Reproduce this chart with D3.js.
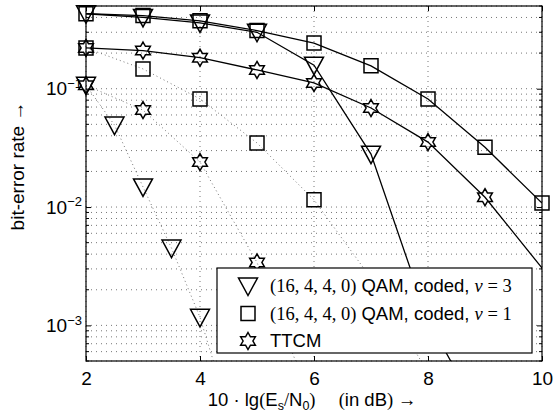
<!DOCTYPE html>
<meta charset="utf-8">
<script src="https://d3js.org/d3.v7.min.js"></script>
<style>
body { margin: 0; background: #fff; }
text { font-family: "Liberation Sans", Arial, sans-serif; fill: #000; }
.serif { font-family: "Liberation Serif", "DejaVu Serif", serif; }
</style>
<div id="chart"></div>
<script>
// values (x in dB, y = bit-error rate)
var xTicks = [2, 4, 6, 8, 10];
var yMajor = [1e-3, 1e-2, 1e-1];

// solid curves
var snrTri = [2, 3, 4, 5, 6, 7, 8, 9];
var berTri = [0.43, 0.40, 0.36, 0.30, 0.158, 0.028, 0.00111, 0.00015];
var snrSq = [2, 3, 4, 5, 6, 7, 8, 9, 10];
var berSq = [0.43, 0.415, 0.375, 0.31, 0.243, 0.156, 0.082, 0.032, 0.0108];
var snrStar = [2, 3, 4, 5, 6, 7, 8, 9, 11];
var berStar = [0.221, 0.21, 0.183, 0.144, 0.112, 0.0687, 0.0354, 0.0121, 0.00077];

// dotted curves
var snrTriD = [2, 2.5, 3, 3.5, 4, 4.5];
var berTriD = [0.107, 0.0493, 0.0148, 0.0045, 0.00117, 0.00019];
var snrSqD = [2, 3, 4, 5, 6, 7, 8];
var berSqD = [0.221, 0.147, 0.082, 0.0348, 0.0115, 0.0025, 0.0004];
var snrStarD = [2, 3, 4, 5, 6];
var berStarD = [0.107, 0.066, 0.024, 0.0034, 0.0002];

var margin = {top: 6, right: 14, bottom: 53, left: 86},
    width = 556 - margin.left - margin.right,
    height = 414 - margin.top - margin.bottom;

var svg = d3.select("#chart").append("svg")
    .attr("width", width + margin.left + margin.right)
    .attr("height", height + margin.top + margin.bottom)
  .append("g")
    .attr("transform", "translate(" + margin.left + "," + margin.top + ")");

var x = d3.scaleLinear().domain([2, 10]).range([0, width]);
var y = d3.scaleLog().domain([5e-4, 0.5]).range([height, 0]);

// grid
svg.append("g").selectAll("line")
  .data(y.ticks())
  .enter().append("line")
    .attr("x1", 0).attr("x2", width)
    .attr("y1", d => y(d)).attr("y2", d => y(d))
    .style("stroke", "#777").style("stroke-dasharray", "1,4");
svg.append("g").selectAll("line")
  .data(xTicks)
  .enter().append("line")
    .attr("x1", d => x(d)).attr("x2", d => x(d))
    .attr("y1", 0).attr("y2", height)
    .style("stroke", "#777").style("stroke-dasharray", "1,4");

svg.append("clipPath").attr("id", "plotclip")
  .append("rect").attr("width", width).attr("height", height);

function zip(xs, ys) { return xs.map((v, i) => [v, ys[i]]); }

var line = d3.line().x(d => x(d[0])).y(d => y(d[1]));

var series = [
  {pts: zip(snrTriD, berTriD), marker: "tri", dotted: true},
  {pts: zip(snrSqD, berSqD), marker: "sq", dotted: true},
  {pts: zip(snrStarD, berStarD), marker: "star", dotted: true},
  {pts: zip(snrTri, berTri), marker: "tri", dotted: false},
  {pts: zip(snrSq, berSq), marker: "sq", dotted: false},
  {pts: zip(snrStar, berStar), marker: "star", dotted: false}
];

function hexagram(R) {
  var r = R / Math.sqrt(3), p = [];
  for (var i = 0; i < 12; i++) {
    var a = (-90 + i * 30) * Math.PI / 180, rr = i % 2 ? r : R;
    p.push([rr * Math.cos(a), rr * Math.sin(a)]);
  }
  return "M" + p.map(q => q[0].toFixed(2) + "," + q[1].toFixed(2)).join("L") + "Z";
}
var shapes = {
  tri: "M-9.5,-8L9.5,-8L0,9.5Z",
  sq: "M-7,-7H7V7H-7Z",
  star: hexagram(8.5)
};

series.forEach(function(s) {
  svg.append("path")
    .datum(s.pts)
    .attr("clip-path", "url(#plotclip)")
    .attr("d", line)
    .style("fill", "none")
    .style("stroke", s.dotted ? "#777" : "#000")
    .style("stroke-width", s.dotted ? 1 : 1.3)
    .style("stroke-dasharray", s.dotted ? "1,3" : null);
});

series.forEach(function(s) {
  svg.append("g").selectAll("path")
    .data(s.pts.filter(d => d[0] >= 2 && d[0] <= 10 && d[1] >= 5e-4 && d[1] <= 0.5))
    .enter().append("path")
      .attr("transform", d => "translate(" + x(d[0]) + "," + y(d[1]) + ")")
      .attr("d", shapes[s.marker])
      .style("fill", "none")
      .style("stroke", "#000")
      .style("stroke-width", 1.5);
});

// axes, ticks pointing inwards on all four sides
var xb = svg.append("g").attr("transform", "translate(0," + height + ")")
  .call(d3.axisBottom(x).tickValues(xTicks).tickSizeInner(-5).tickSizeOuter(0).tickPadding(11));
xb.selectAll("text").style("font-size", "19px");
svg.append("g")
  .call(d3.axisTop(x).tickValues(xTicks).tickSizeInner(-5).tickSizeOuter(0).tickFormat(""));

var yl = svg.append("g")
  .call(d3.axisLeft(y).tickValues(yMajor).tickSizeInner(-5).tickSizeOuter(0).tickPadding(4));
yl.selectAll(".tick text").each(function(d) {
  var t = d3.select(this).text(null).style("font-size", "19px");
  t.append("tspan").text("10");
  t.append("tspan").attr("dy", "-0.55em").style("font-size", "13px")
    .text("\u2212" + Math.round(-Math.log10(d)));
});
svg.append("g").attr("transform", "translate(" + width + ",0)")
  .call(d3.axisRight(y).tickValues(yMajor).tickSizeInner(-5).tickSizeOuter(0).tickFormat(""));

// minor log ticks
var minor = y.ticks().filter(d => yMajor.indexOf(d) < 0);
[0, width].forEach(function(x0) {
  svg.append("g").selectAll("line")
    .data(minor).enter().append("line")
      .attr("x1", x0).attr("x2", x0 === 0 ? 3 : width - 3)
      .attr("y1", d => y(d)).attr("y2", d => y(d))
      .style("stroke", "#000");
});

svg.selectAll(".domain").remove();
svg.selectAll(".tick line").style("stroke", "#000");
svg.append("rect").attr("width", width).attr("height", height)
  .style("fill", "none").style("stroke", "#000").style("stroke-width", 1.2);

// axis labels
var xl = svg.append("text")
  .attr("x", width / 2 - 2).attr("y", height + 45)
  .attr("text-anchor", "middle").style("font-size", "18.5px");
xl.append("tspan").text("10 \u00b7 lg");
xl.append("tspan").attr("class", "serif").text("(");
xl.append("tspan").text("E");
xl.append("tspan").attr("dy", 4).style("font-size", "12.5px").text("s");
xl.append("tspan").attr("dy", -4).attr("class", "serif").text("/");
xl.append("tspan").text("N");
xl.append("tspan").attr("dy", 4).style("font-size", "12.5px").text("0");
xl.append("tspan").attr("dy", -4).attr("class", "serif").text(")");
xl.append("tspan").attr("class", "serif").text("\u2003 (");
xl.append("tspan").text("in dB");
xl.append("tspan").attr("class", "serif").text(") \u2192");

svg.append("text")
  .attr("transform", "translate(-62," + 160 + ") rotate(-90)")
  .attr("text-anchor", "middle").style("font-size", "19px")
  .text("bit-error rate \u2192");

// legend
var labels = [
  {marker: "tri", parts: [["(16, 4, 4, 0)", "serif"], [" QAM, coded, ", ""], ["\u03bd", "serif it"], [" = 3", "serif"]]},
  {marker: "sq", parts: [["(16, 4, 4, 0)", "serif"], [" QAM, coded, ", ""], ["\u03bd", "serif it"], [" = 1", "serif"]]},
  {marker: "star", parts: [["TTCM", ""]]}
];
var lw = 315, lh = 85;
var lg = svg.append("g").attr("transform", "translate(" + (width - 10 - lw) + "," + (height - 8 - lh) + ")");
lg.append("rect").attr("width", lw).attr("height", lh)
  .style("fill", "#fff").style("stroke", "#000").style("stroke-width", 1.2);
labels.forEach(function(l, i) {
  var row = lg.append("g").attr("transform", "translate(0," + (18 + i * 27.5) + ")");
  row.append("path").attr("transform", "translate(31,0)").attr("d", shapes[l.marker])
    .style("fill", "none").style("stroke", "#000").style("stroke-width", 1.5);
  var t = row.append("text").attr("x", 53).attr("dy", "0.35em").style("font-size", "18.5px");
  l.parts.forEach(function(p) {
    var ts = t.append("tspan").text(p[0]);
    if (p[1].indexOf("serif") >= 0) ts.attr("class", "serif");
    if (p[1].indexOf("it") >= 0) ts.style("font-style", "italic");
  });
});
</script>
